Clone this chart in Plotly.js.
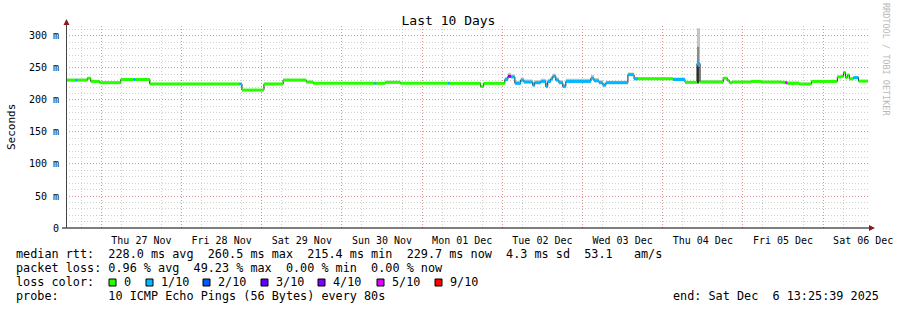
<!DOCTYPE html>
<html><head><meta charset="utf-8">
<script src="https://cdn.plot.ly/plotly-3.0.1.min.js"></script>
<style>html,body{margin:0;padding:0;background:#fff}#chart{width:897px;height:310px}</style>
</head><body><div id="chart"></div>
<script>
// ---------- data ----------
const startTime = '2025-11-26 13:25:39';
const endTime   = '2025-12-06 13:25:39';

const segStart = [
 '2025-11-26 13:25:39','2025-11-26 16:15','2025-11-26 16:45','2025-11-26 19:50','2025-11-26 20:50',
 '2025-11-26 23:30','2025-11-27 05:50','2025-11-27 09:40','2025-11-27 10:10','2025-11-27 14:30',
 '2025-11-28 17:20','2025-11-28 18:05','2025-11-29 00:40','2025-11-29 06:25','2025-11-29 13:20',
 '2025-11-29 15:25','2025-11-30 09:45','2025-11-30 10:15','2025-11-30 13:00','2025-11-30 17:30',
 '2025-12-01 07:45','2025-12-01 08:15','2025-12-01 17:30','2025-12-01 18:25','2025-12-02 00:45',
 '2025-12-02 01:40','2025-12-02 02:35','2025-12-02 03:45','2025-12-02 05:30','2025-12-02 06:25',
 '2025-12-02 09:05','2025-12-02 09:40','2025-12-02 11:30','2025-12-02 13:00','2025-12-02 13:35',
 '2025-12-02 14:30','2025-12-02 15:05','2025-12-02 16:00','2025-12-02 16:55','2025-12-02 18:05',
 '2025-12-02 19:00','2025-12-03 02:30','2025-12-03 03:25','2025-12-03 04:55','2025-12-03 06:05',
 '2025-12-03 07:00','2025-12-03 13:35','2025-12-03 15:25','2025-12-03 16:35','2025-12-04 03:05',
 '2025-12-04 06:40','2025-12-04 10:15','2025-12-04 11:10','2025-12-04 18:05','2025-12-04 19:20',
 '2025-12-04 19:55','2025-12-04 20:50','2025-12-05 02:30','2025-12-05 05:30','2025-12-05 11:30',
 '2025-12-05 12:40','2025-12-05 13:15','2025-12-05 16:50','2025-12-05 20:30','2025-12-06 04:15',
 '2025-12-06 05:25','2025-12-06 06:05','2025-12-06 06:40','2025-12-06 07:15','2025-12-06 07:50',
 '2025-12-06 09:05','2025-12-06 10:35'
];
const medianMs = [
 231,231,231,234,229,
 227,232,232,232,225,
 225,215.5,225,231,228,
 226,226,226,227.5,226,
 226,226,221,226,232,
 237,236,226,231,228,
 223,227,229,221,229,
 233,237,231,227,221,
 229,234,230,227,223,
 227,239.5,233,233,232,
 227.5,257,228,234,230.5,
 227,228,229,228,227.5,
 227,226,225,229,236,
 237,243,235,239,233,
 235,229.5
];
const lossTenths = [
 0,1,0,0,0,
 0,0,1,0,0,
 1,0,0,0,0,
 0,1,0,0,0,
 1,0,0,0,1,
 4,1,1,1,1,
 1,1,1,1,1,
 1,1,1,1,1,
 1,1,1,1,1,
 1,1,1,0,1,
 0,1,0,0,0,
 0,0,0,0,0,
 5,0,0,0,0,
 0,0,0,0,0,
 1,0
];
const smokeMaxMs = [
 233,233,233,236,231,
 229,234,234,234,227,
 227,216.5,227,233,230,
 228,228,228,230,228,
 228,228,223,228,236,
 242,240,230,235,232,
 228,231,233,226,233,
 237,241,235,231,225,
 233,239,234,231,227,
 230,243,236,235,235,
 229,312,231,236,232,
 229,230,231,230,230,
 229,229,227,231,238,
 239,245,237,241,235,
 237,231
];
// darker smoke layers of the 4 Dec spike
const spikeSmokeTimes = ['2025-12-04 10:15','2025-12-04 10:55'];
const spikeSmokeFloorMs = [226, 226];
const spikeSmokeMidMs = [283, 283];
const spikeSmokeDarkMs = [252, 252];

const lossLevels = [0, 1, 2, 3, 4, 5, 9];
const lossLabels = ['0', '1/10', '2/10', '3/10', '4/10', '5/10', '9/10'];
const lossColors = ['#26ff00', '#00b8ff', '#0059ff', '#5e00ff', '#7e00ff', '#dd00ff', '#ff0000'];

const yTickVals = [0, 50, 100, 150, 200, 250, 300];
const yTickText = ['0', '50 m', '100 m', '150 m', '200 m', '250 m', '300 m'];

const statsLine1 = 'median rtt:  228.0 ms avg  260.5 ms max  215.4 ms min  229.7 ms now  4.3 ms sd  53.1   am/s';
const statsLine2 = 'packet loss: 0.96 % avg  49.23 % max  0.00 % min  0.00 % now';
const statsLine3 = 'loss color:';
const statsLine4 = 'probe:       10 ICMP Echo Pings (56 Bytes) every 80s';
const endLine = 'end: Sat Dec  6 13:25:39 2025';

// ---------- traces ----------
const FONT = 'DejaVu Sans Mono, monospace';
const stepX = segStart.concat([endTime]);
const stepMed = medianMs.concat([medianMs[medianMs.length - 1]]);
const stepSmoke = smokeMaxMs.concat([smokeMaxMs[smokeMaxMs.length - 1]]);

const traces = [];
traces.push({x: stepX, y: stepMed, mode: 'lines', line: {shape: 'hv', width: 0, color: 'rgba(0,0,0,0)'}, hoverinfo: 'skip'});
traces.push({x: stepX, y: stepSmoke, mode: 'lines', line: {shape: 'hv', width: 0, color: 'rgba(0,0,0,0)'},
  fill: 'tonexty', fillcolor: '#c4c4c4', hoverinfo: 'skip'});
traces.push({x: spikeSmokeTimes, y: spikeSmokeFloorMs, mode: 'lines', line: {shape: 'hv', width: 0}, hoverinfo: 'skip'});
traces.push({x: spikeSmokeTimes, y: spikeSmokeMidMs, mode: 'lines', line: {shape: 'hv', width: 0},
  fill: 'tonexty', fillcolor: '#8a8a8a', hoverinfo: 'skip'});
traces.push({x: spikeSmokeTimes, y: spikeSmokeFloorMs, mode: 'lines', line: {shape: 'hv', width: 0}, hoverinfo: 'skip'});
traces.push({x: spikeSmokeTimes, y: spikeSmokeDarkMs, mode: 'lines', line: {shape: 'hv', width: 0},
  fill: 'tonexty', fillcolor: '#383838', hoverinfo: 'skip'});
// thin black median
traces.push({x: stepX, y: stepMed, mode: 'lines', line: {shape: 'hv', width: 1, color: '#202020'}, hoverinfo: 'skip'});
// coloured median bands by loss
lossLevels.forEach((lv, k) => {
  const xs = [], ys = [];
  for (let i = 0; i < segStart.length; i++) {
    if (lossTenths[i] !== lv) continue;
    xs.push(segStart[i], stepX[i + 1], null);
    ys.push(medianMs[i], medianMs[i], null);
  }
  if (xs.length) traces.push({x: xs, y: ys, mode: 'lines', connectgaps: false,
    line: {width: 3, color: lossColors[k]}, hoverinfo: 'skip'});
});
// invisible trace that carries the day grid axis
traces.push({x: [startTime, endTime], y: [null, null], xaxis: 'x2', yaxis: 'y', mode: 'lines', hoverinfo: 'skip'});

// ---------- layout helpers ----------
const L = 66, R = 868, T = 26, B = 228;
const px = v => (v - L) / (R - L);
const py = v => (B - v) / (B - T);
const nb = s => s.replace(/ /g, '\u00a0');

const annotations = [];
const shapes = [];
function txt(x, y, s, size, anchor, extra) {
  annotations.push(Object.assign({x: px(x), y: py(y), xref: 'paper', yref: 'paper', text: nb(s),
    showarrow: false, xanchor: anchor || 'left', yanchor: 'middle',
    font: {family: FONT, size: size, color: '#000'}}, extra || {}));
}
txt(14, 254.3, statsLine1, 11.8);
txt(14, 268.3, statsLine2, 11.8);
txt(14, 282.3, statsLine3, 11.8);
txt(14, 296.3, statsLine4, 11.8);
txt(881, 296.3, endLine, 11.8, 'right');
const boxX = [109, 146, 203, 261, 318, 377, 435];
lossLabels.forEach((lab, k) => {
  shapes.push({type: 'rect', xref: 'paper', yref: 'paper', x0: px(boxX[k]), x1: px(boxX[k] + 7),
    y0: py(286), y1: py(279), fillcolor: lossColors[k], line: {color: '#000', width: 1}});
  txt(boxX[k] + 12.5, 282.3, lab, 11.8);
});
// y axis title
txt(11, 127, 'Seconds', 11, 'center', {textangle: -90, xanchor: 'center'});
// watermark
annotations.push({x: px(886), y: py(59), xref: 'paper', yref: 'paper', text: nb('RRDTOOL / TOBI OETIKER'),
  showarrow: false, textangle: 90, xanchor: 'center', yanchor: 'middle',
  font: {family: FONT, size: 8.5, color: '#b8b8b8'}});

// axis lines and arrows
shapes.push({type: 'line', xref: 'paper', yref: 'paper', x0: px(62), x1: px(870), y0: 0, y1: 0, line: {color: '#000', width: 1}});
shapes.push({type: 'line', xref: 'paper', yref: 'paper', x0: px(66.5), x1: px(66.5), y0: 0, y1: py(22), line: {color: '#444', width: 1}});
shapes.push({type: 'path', xref: 'paper', yref: 'paper', fillcolor: '#8b1a1a', line: {width: 0},
  path: `M ${px(63.5)} ${py(25)} L ${px(69.5)} ${py(25)} L ${px(66.5)} ${py(19)} Z`});
shapes.push({type: 'path', xref: 'paper', yref: 'paper', fillcolor: '#8b1a1a', line: {width: 0},
  path: `M ${px(869)} ${py(225)} L ${px(869)} ${py(231)} L ${px(875)} ${py(228)} Z`});

const GRID_MAJOR = 'rgba(240,60,60,0.42)';
const GRID_MINOR = 'rgba(150,150,150,0.45)';
const DASH = '1px,2px';
const layout = {
  width: 897, height: 310,
  margin: {l: L, r: 897 - R, t: T, b: 310 - B, pad: 0},
  paper_bgcolor: '#fff', plot_bgcolor: '#fff',
  showlegend: false,
  font: {family: FONT, size: 10, color: '#000'},
  title: {text: 'Last 10 Days', font: {family: FONT, size: 13, color: '#000'},
    x: 0.5, xref: 'container', xanchor: 'center', y: 1 - 20 / 310, yref: 'container', yanchor: 'middle'},
  // labels at noon, 6-hourly minor grid
  xaxis: {type: 'date', range: [startTime, endTime], tickmode: 'linear', tick0: '2025-11-27 12:00', dtick: 86400000,
    tickformat: '%a %d %b', ticks: 'outside', ticklen: 3, tickcolor: 'rgba(0,0,0,0)',
    showgrid: false,
    minor: {tickmode: 'linear', tick0: '2025-11-27 00:00', dtick: 21600000, showgrid: true,
      gridcolor: GRID_MINOR, griddash: DASH, gridwidth: 1, ticks: ''},
    showline: false, zeroline: false, fixedrange: true,
    tickfont: {family: FONT, size: 10, color: '#000'}},
  // day boundaries
  xaxis2: {type: 'date', overlaying: 'x', anchor: 'y', side: 'bottom', range: [startTime, endTime],
    tickmode: 'linear', tick0: '2025-11-27 00:00', dtick: 86400000, showticklabels: false, ticks: '',
    showgrid: true, gridcolor: GRID_MAJOR, griddash: DASH, gridwidth: 1,
    showline: false, zeroline: false, fixedrange: true},
  yaxis: {range: [0, 315.6], tickmode: 'array', tickvals: yTickVals, ticktext: yTickText,
    ticks: 'outside', ticklen: 4, tickcolor: 'rgba(0,0,0,0)',
    showgrid: true, gridcolor: GRID_MAJOR, griddash: DASH, gridwidth: 1,
    minor: {tickmode: 'linear', tick0: 0, dtick: 10, showgrid: true,
      gridcolor: GRID_MINOR, griddash: DASH, gridwidth: 1},
    showline: false, zeroline: false, fixedrange: true,
    tickfont: {family: FONT, size: 10, color: '#000'}},
  annotations: annotations,
  shapes: shapes
};

Plotly.newPlot('chart', traces, layout, {staticPlot: true, displayModeBar: false});
</script>
</body></html>
